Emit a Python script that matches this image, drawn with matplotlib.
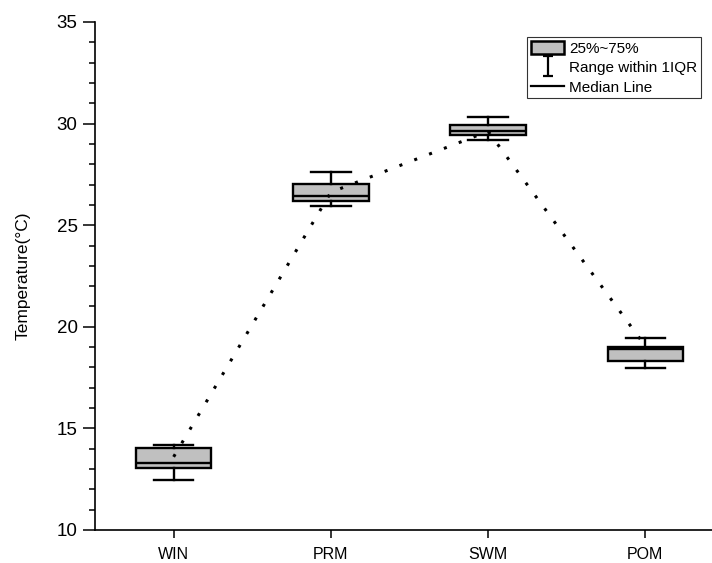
import numpy as np
import matplotlib
matplotlib.use("Agg")
import matplotlib.pyplot as plt
from matplotlib.patches import Patch
from matplotlib.lines import Line2D
from matplotlib.path import Path

plt.rcParams['font.family'] = ['Liberation Sans', 'DejaVu Sans']

# data
seasons = ['WIN', 'PRM', 'SWM', 'POM']
whislo = [12.46, 25.96, 29.19, 17.99]
q1 = [13.07, 26.18, 29.42, 18.33]
med = [13.30, 26.45, 29.65, 18.89]
q3 = [14.02, 27.01, 29.93, 19.02]
whishi = [14.18, 27.63, 30.31, 19.46]
means = [13.60, 26.62, 29.62, 19.05]

stats = []
for i in range(len(seasons)):
    stats.append(dict(label=seasons[i], whislo=whislo[i], q1=q1[i], med=med[i],
                      q3=q3[i], whishi=whishi[i], fliers=[]))

fig = plt.figure(figsize=(7.12, 5.63), dpi=100)
ax = fig.add_axes([95/712, 1-530/563, (724-95)/712, 508/563])

pos = np.arange(1, len(seasons)+1)
ax.bxp(stats, positions=pos, widths=0.48, patch_artist=True, showfliers=False,
       boxprops=dict(facecolor='#c0c0c0', edgecolor='black', linewidth=1.7),
       medianprops=dict(color='black', linewidth=1.7),
       whiskerprops=dict(color='black', linewidth=1.7),
       capprops=dict(color='black', linewidth=1.7), capwidths=0.25)

# dotted line through the means
ax.plot(pos, means, color='black', linestyle=(0, (1, 4.2)), linewidth=2.2, zorder=5)

ax.set_xlim(0.5, 4.5)
ax.set_ylim(10, 35)
ax.set_yticks([10, 15, 20, 25, 30, 35])
ax.set_yticks(np.arange(10, 36, 1), minor=True)
ax.set_xticks(pos)
ax.set_xticklabels(seasons)
ax.tick_params(axis='y', which='major', direction='out', length=8.5, width=1.1, labelsize=13.5, pad=4)
ax.tick_params(axis='y', which='minor', direction='out', length=4.5, width=1.1)
ax.tick_params(axis='x', which='major', direction='out', length=5.5, width=1.1, labelsize=11.5, pad=7)
for s in ['top', 'right']:
    ax.spines[s].set_visible(False)
for s in ['left', 'bottom']:
    ax.spines[s].set_linewidth(1.2)
ax.set_ylabel('Temperature(°C)', fontsize=12.5, labelpad=19)

# legend
ibar = Path([(-0.5, 1), (0.5, 1), (0, 1), (0, -1), (-0.5, -1), (0.5, -1)],
            [Path.MOVETO, Path.LINETO, Path.MOVETO, Path.LINETO, Path.MOVETO, Path.LINETO])
handles = [
    Patch(facecolor='#c0c0c0', edgecolor='black', linewidth=1.8),
    Line2D([], [], marker=ibar, linestyle='None', color='black', markersize=14, markeredgewidth=1.6),
    Line2D([], [], color='black', linewidth=1.6),
]
labels = ['25%~75%', 'Range within 1IQR', 'Median Line']
leg = ax.legend(handles, labels, loc='upper right', bbox_to_anchor=(701/712, 1-37/563),
                bbox_transform=fig.transFigure, fontsize=11, frameon=True, fancybox=False,
                edgecolor='black', handlelength=2.2, handleheight=0.95, handletextpad=0.3,
                borderpad=0.25, labelspacing=0.3, borderaxespad=0)
leg.get_frame().set_linewidth(0.8)

fig.savefig('out.png', dpi=100)
